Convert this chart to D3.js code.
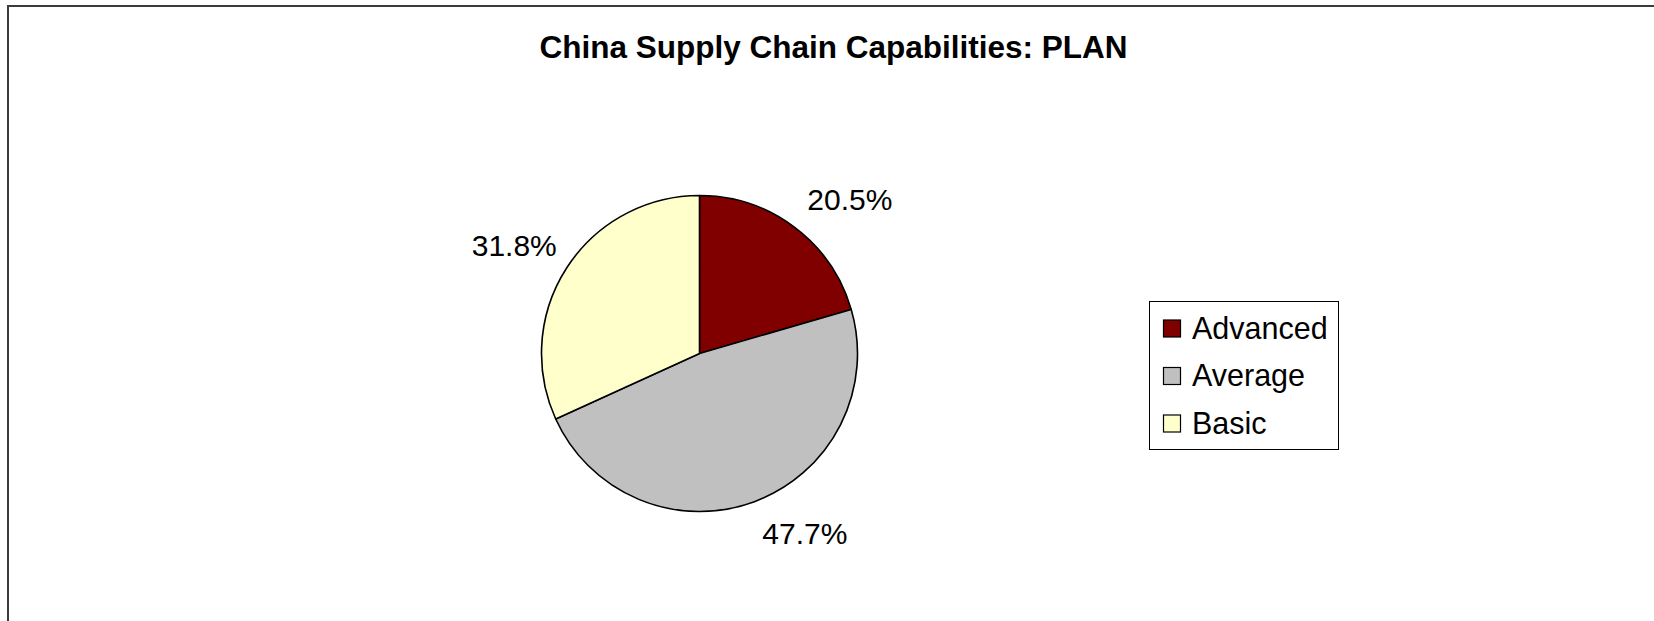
<!DOCTYPE html>
<html>
<head>
<meta charset="utf-8">
<script src="https://cdn.jsdelivr.net/npm/d3@7/dist/d3.min.js"></script>
<style>
  html, body { margin: 0; padding: 0; background: #ffffff; }
  svg { display: block; font-family: "Liberation Sans", Arial, sans-serif; }
</style>
</head>
<body>
<svg id="chart" width="1654" height="621"></svg>
<script>
// Share of companies by planning capability level
const categories = ["Advanced", "Average", "Basic"];
const shares = [20.5, 47.7, 31.8];
const sliceColors = ["#800000", "#c0c0c0", "#ffffcc"];
const chartTitle = "China Supply Chain Capabilities: PLAN";

const svg = d3.select("#chart");
const W = 1654, H = 621;

// Chart area frame (only top and left edges fall inside the view)
svg.append("rect")
  .attr("x", 8).attr("y", 6)
  .attr("width", W + 20).attr("height", H + 20)
  .attr("fill", "#ffffff")
  .attr("stroke", "#3c3c3c")
  .attr("stroke-width", 2);

// Title
svg.append("text")
  .attr("x", 833.5).attr("y", 57.5)
  .attr("text-anchor", "middle")
  .attr("font-size", 31.5)
  .attr("font-weight", "bold")
  .attr("fill", "#000")
  .text(chartTitle);

// Pie
const cx = 699.5, cy = 353.5, radius = 158;
const data = categories.map((c, i) => ({ name: c, value: shares[i] }));
const color = d3.scaleOrdinal().domain(categories).range(sliceColors);

const pie = d3.pie().value(d => d.value).sort(null);
const arc = d3.arc().innerRadius(0).outerRadius(radius);
const arcs = pie(data);

const g = svg.append("g").attr("transform", `translate(${cx},${cy})`);
g.selectAll("path.slice")
  .data(arcs)
  .join("path")
  .attr("class", "slice")
  .attr("d", arc)
  .attr("fill", d => color(d.data.name))
  .attr("stroke", "#000")
  .attr("stroke-width", 1.6)
  .attr("stroke-linejoin", "round");

// Percentage labels outside each slice: the label corner nearest the
// centre sits just beyond the rim along the slice's mid-angle
const labelGap = 20;
const labelSize = 30;
const capH = labelSize * 0.716;
g.selectAll("text.pct")
  .data(arcs)
  .join("text")
  .attr("class", "pct")
  .attr("font-size", labelSize)
  .attr("fill", "#000")
  .each(function (d) {
    const a = (d.startAngle + d.endAngle) / 2;
    const r = radius + labelGap;
    const px = Math.sin(a) * r;
    const py = -Math.cos(a) * r;
    const right = Math.sin(a) >= 0;
    const upper = Math.cos(a) >= 0;
    d3.select(this)
      .attr("x", right ? px + 1 : px + 7)
      .attr("y", upper ? py - 1 : py + capH + 2)
      .attr("text-anchor", right ? "start" : "end");
  })
  .text(d => d.data.value.toFixed(1) + "%");

// Legend
const legend = svg.append("g").attr("transform", "translate(1149,301)");
legend.append("rect")
  .attr("x", 0.5).attr("y", 0.5)
  .attr("width", 189).attr("height", 148)
  .attr("fill", "#ffffff")
  .attr("stroke", "#000")
  .attr("stroke-width", 1);

const rowY = d3.scalePoint().domain(categories).range([37.5, 132.5]);
const items = legend.selectAll("g.item")
  .data(data)
  .join("g")
  .attr("class", "item")
  .attr("transform", d => `translate(0,${rowY(d.name)})`);

items.append("rect")
  .attr("x", 14.5).attr("y", -18.5)
  .attr("width", 17).attr("height", 17)
  .attr("fill", d => color(d.name))
  .attr("stroke", "#000")
  .attr("stroke-width", 1.2);

items.append("text")
  .attr("x", 43).attr("y", 0)
  .attr("font-size", 30.5)
  .attr("fill", "#000")
  .text(d => d.name);
</script>
</body>
</html>
